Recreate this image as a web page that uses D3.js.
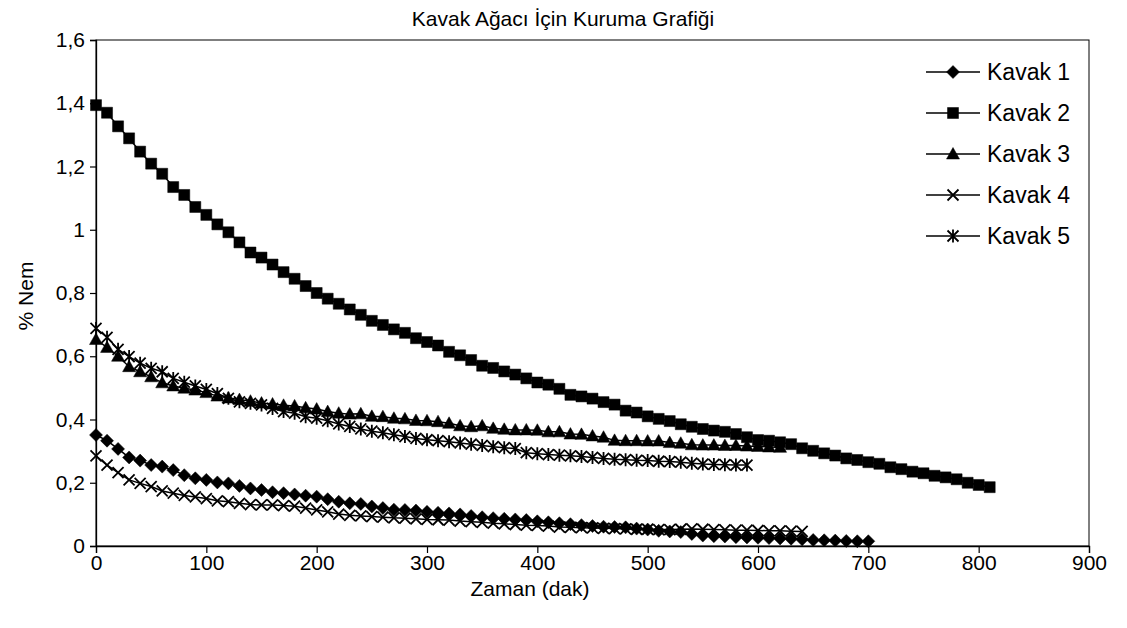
<!DOCTYPE html>
<html>
<head>
<meta charset="utf-8">
<script src="https://cdn.jsdelivr.net/npm/d3@7"></script>
<style>
  body { margin: 0; background: #fff; }
  svg { font-family: "Liberation Sans", Arial, sans-serif; }
</style>
</head>
<body>
<div id="chart"></div>
<script>
var width = 1127, height = 628;

// time in minutes (10 min steps)
var zaman = [0,10,20,30,40,50,60,70,80,90,100,110,120,130,140,150,160,170,180,190,
  200,210,220,230,240,250,260,270,280,290,300,310,320,330,340,350,360,370,380,390,
  400,410,420,430,440,450,460,470,480,490,500,510,520,530,540,550,560,570,580,590,
  600,610,620,630,640,650,660,670,680,690,700,710,720,730,740,750,760,770,780,790,
  800,810];

var kavak1 = [0.351,0.333,0.307,0.280,0.270,0.256,0.251,0.240,0.224,0.214,
  0.209,0.201,0.198,0.190,0.182,0.177,0.170,0.167,0.163,0.159,
  0.156,0.148,0.140,0.135,0.133,0.125,0.120,0.115,0.114,0.112,
  0.108,0.105,0.103,0.100,0.095,0.091,0.088,0.086,0.084,0.082,
  0.078,0.075,0.072,0.069,0.066,0.063,0.061,0.060,0.059,0.055,
  0.052,0.048,0.046,0.044,0.038,0.033,0.031,0.030,0.028,0.027,
  0.026,0.025,0.024,0.023,0.021,0.019,0.018,0.017,0.016,0.015,
  0.015];

var kavak2 = [1.394,1.370,1.327,1.289,1.247,1.209,1.177,1.135,1.110,1.072,
  1.047,1.017,0.992,0.960,0.928,0.912,0.890,0.866,0.845,0.822,
  0.800,0.782,0.766,0.748,0.731,0.712,0.699,0.685,0.674,0.657,
  0.645,0.634,0.614,0.603,0.588,0.570,0.563,0.552,0.542,0.530,
  0.517,0.510,0.497,0.478,0.473,0.466,0.455,0.447,0.428,0.422,
  0.410,0.402,0.395,0.385,0.377,0.370,0.365,0.361,0.354,0.344,
  0.335,0.333,0.328,0.322,0.309,0.301,0.293,0.286,0.277,0.272,
  0.265,0.260,0.249,0.243,0.235,0.230,0.222,0.217,0.211,0.200,
  0.193,0.186];

var kavak3 = [0.653,0.628,0.600,0.567,0.551,0.535,0.516,0.506,0.499,0.493,
  0.485,0.474,0.468,0.463,0.458,0.452,0.449,0.445,0.443,0.437,
  0.433,0.425,0.420,0.417,0.418,0.410,0.409,0.404,0.402,0.397,
  0.396,0.393,0.388,0.380,0.377,0.380,0.372,0.369,0.367,0.367,
  0.366,0.361,0.361,0.354,0.353,0.348,0.344,0.334,0.333,0.333,
  0.332,0.332,0.327,0.325,0.320,0.319,0.319,0.318,0.318,0.316,
  0.315,0.313,0.312];

var kavak4 = [0.285,0.256,0.232,0.209,0.198,0.188,0.174,0.167,0.160,0.155,
  0.150,0.143,0.140,0.135,0.131,0.130,0.130,0.128,0.126,0.120,
  0.114,0.108,0.101,0.097,0.095,0.093,0.091,0.089,0.088,0.086,
  0.084,0.083,0.082,0.079,0.077,0.075,0.072,0.070,0.068,0.066,
  0.065,0.063,0.060,0.059,0.058,0.057,0.056,0.055,0.054,0.053,
  0.053,0.052,0.052,0.053,0.054,0.053,0.052,0.051,0.050,0.050,
  0.049,0.048,0.048,0.047,0.046];

var kavak5 = [0.688,0.660,0.622,0.599,0.578,0.562,0.551,0.530,0.518,0.506,
  0.495,0.482,0.467,0.456,0.451,0.446,0.435,0.425,0.420,0.409,
  0.404,0.396,0.386,0.378,0.370,0.363,0.358,0.352,0.346,0.340,
  0.336,0.333,0.330,0.326,0.322,0.318,0.314,0.311,0.308,0.295,
  0.292,0.289,0.287,0.285,0.283,0.280,0.277,0.274,0.273,0.271,
  0.270,0.268,0.267,0.265,0.262,0.259,0.258,0.257,0.256,0.256];

var seriesNames = ["Kavak 1", "Kavak 2", "Kavak 3", "Kavak 4", "Kavak 5"];
var seriesValues = [kavak1, kavak2, kavak3, kavak4, kavak5];
var markerTypes = ["diamond", "square", "triangle", "cross", "star"];

var xTicks = [0,100,200,300,400,500,600,700,800,900];
var yTicks = [0,0.2,0.4,0.6,0.8,1,1.2,1.4,1.6];
var yTickLabels = ["0","0,2","0,4","0,6","0,8","1","1,2","1,4","1,6"];

var titleText = "Kavak Ağacı İçin Kuruma Grafiği";
var xTitle = "Zaman (dak)";
var yTitle = "% Nem";

// marker shapes
function markerPath(type) {
  if (type === "diamond") return "M0,-6.5L6.5,0L0,6.5L-6.5,0Z";
  if (type === "square") return "M-5.5,-5.5H5.5V5.5H-5.5Z";
  if (type === "triangle") return "M0,-6.5L6.5,5L-6.5,5Z";
  if (type === "cross") return "M-5.5,-5.5L5.5,5.5M-5.5,5.5L5.5,-5.5";
  return "M-5.5,-5.5L5.5,5.5M-5.5,5.5L5.5,-5.5M0,-6.5L0,6.5";
}
function isFilled(type) {
  return type === "diamond" || type === "square" || type === "triangle";
}

var svg = d3.select("#chart").append("svg")
    .attr("width", width)
    .attr("height", height);

var x = d3.scaleLinear().domain([0, 900]).range([96, 1089]);
var y = d3.scaleLinear().domain([0, 1.6]).range([546, 40]);

// plot frame
svg.append("rect")
  .attr("x", x(0)).attr("y", y(1.6))
  .attr("width", x(900) - x(0)).attr("height", y(0) - y(1.6))
  .attr("fill", "none").attr("stroke", "#000").attr("stroke-width", 1);

var xAxis = svg.append("g")
  .attr("transform", "translate(0," + y(0) + ")")
  .call(d3.axisBottom(x).tickValues(xTicks).tickSize(7).tickPadding(2).tickFormat(d3.format("d")));
var yAxis = svg.append("g")
  .attr("transform", "translate(" + x(0) + ",0)")
  .call(d3.axisLeft(y).tickValues(yTicks).tickSize(6).tickPadding(5)
    .tickFormat(function(d, i) { return yTickLabels[i]; }));

[xAxis, yAxis].forEach(function(a) {
  a.select(".domain").attr("stroke", "#000").attr("stroke-width", 1.3);
  a.selectAll(".tick line").attr("stroke", "#000").attr("stroke-width", 1.2);
  a.selectAll(".tick text").attr("fill", "#000").attr("font-size", 21)
    .attr("font-family", "Liberation Sans, Arial, sans-serif");
});

// series
var line = d3.line()
  .x(function(d) { return x(d.t); })
  .y(function(d) { return y(d.v); });

seriesValues.forEach(function(vals, si) {
  var pts = vals.map(function(v, i) { return { t: zaman[i], v: v }; });
  var type = markerTypes[si];
  var g = svg.append("g").attr("class", "series");
  g.append("path")
    .datum(pts)
    .attr("d", line)
    .attr("fill", "none")
    .attr("stroke", "#000")
    .attr("stroke-width", 1.5);
  g.selectAll(".m").data(pts).enter().append("path")
    .attr("class", "m")
    .attr("transform", function(d) { return "translate(" + x(d.t) + "," + y(d.v) + ")"; })
    .attr("d", markerPath(type))
    .attr("fill", isFilled(type) ? "#000" : "none")
    .attr("stroke", "#000")
    .attr("stroke-width", isFilled(type) ? 0.5 : 1.8);
});

// legend
var legend = svg.append("g").attr("transform", "translate(926,72)");
seriesNames.forEach(function(name, i) {
  var row = legend.append("g").attr("transform", "translate(0," + (i * 41) + ")");
  row.append("line").attr("x1", 0).attr("x2", 54).attr("y1", 0).attr("y2", 0)
    .attr("stroke", "#000").attr("stroke-width", 1.5);
  row.append("path").attr("transform", "translate(27,0)")
    .attr("d", markerPath(markerTypes[i]))
    .attr("fill", isFilled(markerTypes[i]) ? "#000" : "none")
    .attr("stroke", "#000")
    .attr("stroke-width", isFilled(markerTypes[i]) ? 0.5 : 1.8);
  row.append("text").attr("x", 61).attr("y", 0).attr("dy", "0.35em")
    .attr("font-size", 23).attr("fill", "#000").text(name);
});

// titles
svg.append("text").attr("x", 563).attr("y", 26)
  .attr("text-anchor", "middle").attr("font-size", 21).text(titleText);
svg.append("text").attr("x", 530).attr("y", 596)
  .attr("text-anchor", "middle").attr("font-size", 21).text(xTitle);
svg.append("text")
  .attr("transform", "translate(33,296) rotate(-90)")
  .attr("text-anchor", "middle").attr("font-size", 21).text(yTitle);
</script>
</body>
</html>
